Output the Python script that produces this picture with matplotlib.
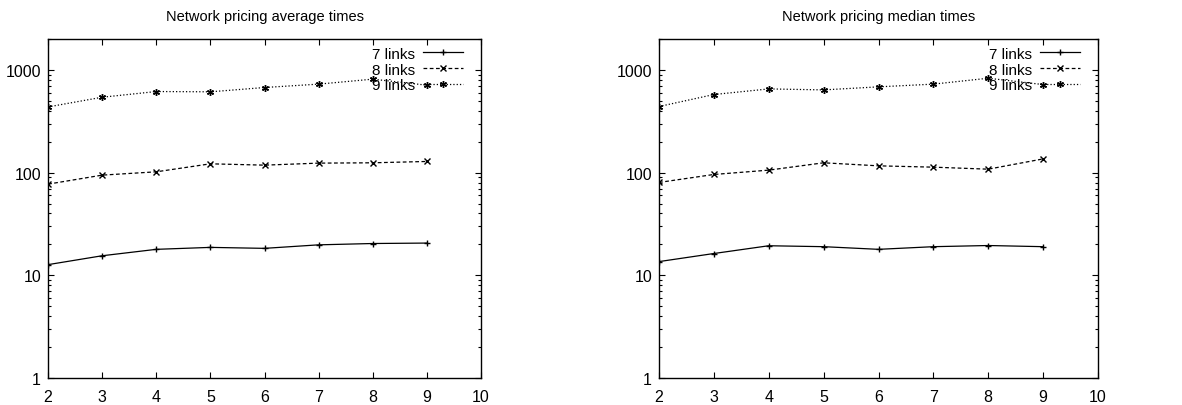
import matplotlib
matplotlib.use("Agg")
import matplotlib.pyplot as plt
from matplotlib.ticker import LogLocator, FixedLocator, NullFormatter

plt.rcParams['font.family'] = ['Liberation Sans', 'DejaVu Sans']

x = [2, 3, 4, 5, 6, 7, 8, 9]
labels = ["7 links", "8 links", "9 links"]

avg_7 = [12.7, 15.5, 17.9, 18.7, 18.3, 19.8, 20.4, 20.6]
avg_8 = [77.2, 94.5, 101.8, 121.8, 118.2, 123.7, 124.6, 128.4]
avg_9 = [436, 542, 616, 612, 674, 727, 813, 710]

med_7 = [13.6, 16.3, 19.4, 19.0, 17.9, 19.0, 19.5, 19.0]
med_8 = [80.2, 95.9, 105.7, 124.6, 116.4, 113.0, 108.0, 136.0]
med_9 = [440, 576, 653, 639, 684, 727, 830, 720]

titles = ["Network pricing average times", "Network pricing median times"]
xticks = [2, 3, 4, 5, 6, 7, 8, 9, 10]
yticks = [1, 10, 100, 1000]

fig = plt.figure(figsize=(11.82, 4.06), dpi=100)
ax1 = fig.add_axes([48/1182, 27/406, 433/1182, 339/406])
ax2 = fig.add_axes([659/1182, 27/406, 439/1182, 339/406])

styles = [dict(ls='-', marker='+'), dict(ls='--', marker='x', dashes=(3, 2)),
          dict(ls=':', marker=(6, 2, 0))]

for ax, title, series in [(ax1, titles[0], [avg_7, avg_8, avg_9]),
                          (ax2, titles[1], [med_7, med_8, med_9])]:
    for s, lab, st in zip(series, labels, styles):
        ax.plot(x, s, color='black', lw=0.9, markersize=5, markeredgewidth=1.0,
                label=lab, **st)
    ax.set_yscale('log')
    ax.set_ylim(1, 2000)
    ax.set_xlim(2, 10)
    ax.set_xticks(xticks)
    ax.set_xticklabels([str(t) for t in xticks])
    ax.yaxis.set_major_locator(FixedLocator(yticks))
    ax.set_yticklabels([str(t) for t in yticks])
    ax.yaxis.set_minor_locator(LogLocator(base=10, subs=range(2, 10)))
    ax.yaxis.set_minor_formatter(NullFormatter())
    ax.tick_params(which='both', direction='in', top=True, right=True,
                   labelsize=11.5, width=0.8)
    ax.tick_params(which='major', length=4, pad=8)
    ax.tick_params(which='minor', length=2.2)
    ax.tick_params(axis='y', which='major', pad=5)
    for sp in ax.spines.values():
        sp.set_linewidth(1.0)
    ax.set_title(title, fontsize=10.5, pad=14)
    ax.legend(loc='upper right', frameon=False, markerfirst=False, fontsize=11,
              handlelength=2.6, handletextpad=0.5, labelspacing=0.12,
              borderaxespad=0.2, bbox_to_anchor=(0.979, 1.004))

fig.savefig("out.png", dpi=100)
